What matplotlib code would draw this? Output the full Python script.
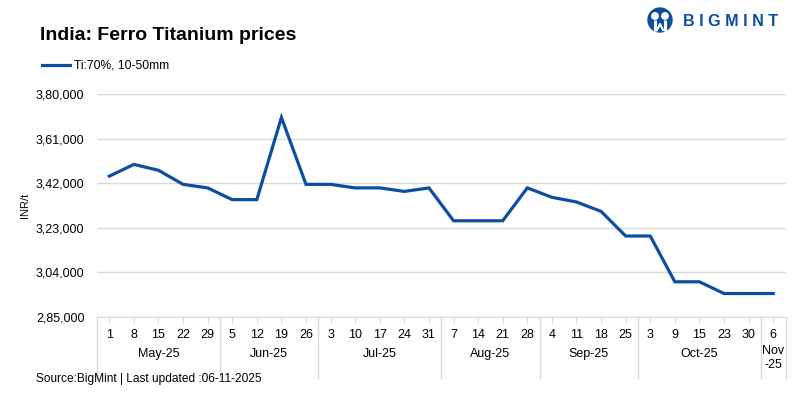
import numpy as np
import matplotlib
matplotlib.use("Agg")
import matplotlib.pyplot as plt
from matplotlib.transforms import blended_transform_factory
from matplotlib.patches import Circle

plt.rcParams['font.family'] = ['Liberation Sans', 'DejaVu Sans']

# データ
days = ['1', '8', '15', '22', '29', '5', '12', '19', '26', '3', '10', '17', '24', '31',
        '7', '14', '21', '28', '4', '11', '18', '25', '3', '9', '15', '23', '30', '6']
months = ['May-25', 'Jun-25', 'Jul-25', 'Aug-25', 'Sep-25', 'Oct-25', 'Nov\n-25']
month_counts = [5, 4, 5, 4, 4, 5, 1]
prices = [345000, 350000, 347500, 341500, 340000, 335000, 335000, 370000, 341500,
          341500, 340000, 340000, 338500, 340000, 326000, 326000, 326000, 340000,
          336000, 334000, 330000, 319500, 319500, 300000, 300000, 295000, 295000, 295000]
yticks = [285000, 304000, 323000, 342000, 361000, 380000]
ytick_labels = ['2,85,000', '3,04,000', '3,23,000', '3,42,000', '3,61,000', '3,80,000']
series_name = 'Ti:70%, 10-50mm'

line_color = '#0b4ea2'
grid_color = '#d9d9d9'

fig = plt.figure(figsize=(8, 3.99), dpi=100)
ax = fig.add_axes([97 / 800, 1 - 317 / 399, (785.5 - 97) / 800, (317 - 94) / 399])

x = np.arange(len(prices))
ax.plot(x, prices, color=line_color, lw=2.3, solid_joinstyle='miter')

ax.set_xlim(-0.5, len(prices) - 0.5)
ax.set_ylim(yticks[0], yticks[-1])
ax.set_yticks(yticks)
ax.set_yticklabels(ytick_labels, fontsize=9)
ax.tick_params(axis='y', length=0, pad=9)
ax.set_xticks(x)
ax.set_xticklabels(days, fontsize=9)
ax.tick_params(axis='x', length=4, color=grid_color, pad=5)
ax.grid(axis='y', color=grid_color, lw=1)
ax.set_axisbelow(True)
for s in ['left', 'right', 'top']:
    ax.spines[s].set_visible(False)
ax.spines['bottom'].set_color(grid_color)

# 月のラベルと区切り線
trans = blended_transform_factory(ax.transData, ax.transAxes)
pos = -0.5
ax.plot([pos, pos], [0, -0.275], transform=trans, color=grid_color, lw=1, clip_on=False)
for m, n in zip(months, month_counts):
    center = pos + n / 2
    if '\n' in m:
        ax.text(center, -0.125, m, transform=trans, ha='center', va='top', fontsize=9, linespacing=1.2)
    else:
        ax.text(center, -0.165, m, transform=trans, ha='center', va='center', fontsize=9)
    pos += n
    ax.plot([pos, pos], [0, -0.275], transform=trans, color=grid_color, lw=1, clip_on=False)

ax.set_ylabel('INR/t', fontsize=8)
ax.yaxis.set_label_coords(-67 / 688.5, 0.5)

fig.text(40 / 800, 1 - 36 / 399, 'India: Ferro Titanium prices', fontsize=14, fontweight='bold',
         va='center', ha='left')
fig.lines.append(plt.Line2D([42 / 800, 70 / 800], [1 - 65 / 399, 1 - 65 / 399],
                            transform=fig.transFigure, color=line_color, lw=2.3))
fig.text(74 / 800, 1 - 65 / 399, series_name, fontsize=8.7, va='center', ha='left')
fig.text(36 / 800, 1 - 379 / 399, 'Source:BigMint | Last updated :06-11-2025', fontsize=8.6,
         va='center', ha='left')

# ロゴ
logo_ax = fig.add_axes([646 / 800, 1 - 34 / 399, 140 / 800, 28 / 399])
logo_ax.set_xlim(0, 140)
logo_ax.set_ylim(0, 28)
logo_ax.axis('off')
logo_ax.add_patch(Circle((14, 14), 12, color=line_color))
for cx in (9, 19):
    logo_ax.add_patch(Circle((cx, 18), 3.2, color='white'))
    logo_ax.plot([cx, cx], [3, 14], color='white', lw=2.2, solid_capstyle='butt')
logo_ax.plot([11, 14, 17], [4, 10, 4], color='white', lw=1.5)
logo_ax.text(37, 13, 'B I G M I N T', fontsize=11.6, fontweight='bold', color=line_color,
             va='center', ha='left')

fig.savefig('out.png', dpi=100)
